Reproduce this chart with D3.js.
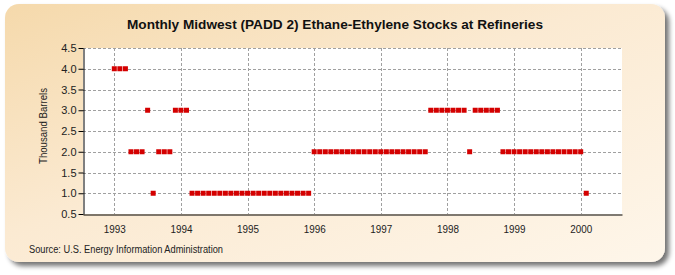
<!DOCTYPE html>
<html><head><meta charset="utf-8">
<script src="https://cdn.jsdelivr.net/npm/d3@7"></script>
<style>body{margin:0;background:#fff}svg{display:block}</style>
</head><body><svg id="c" width="675" height="275"></svg>
<script>
const title = "Monthly Midwest (PADD 2) Ethane-Ethylene Stocks at Refineries";
const yLabel = "Thousand Barrels";
const source = "Source: U.S. Energy Information Administration";
const startYear = 1993;
const values = [
  4,4,4,2,2,2,3,1,2,2,2,3,
  3,3,1,1,1,1,1,1,1,1,1,1,
  1,1,1,1,1,1,1,1,1,1,1,1,
  2,2,2,2,2,2,2,2,2,2,2,2,
  2,2,2,2,2,2,2,2,2,3,3,3,
  3,3,3,3,2,3,3,3,3,3,2,2,
  2,2,2,2,2,2,2,2,2,2,2,2,
  2,1
];
const xTicks = [1993,1994,1995,1996,1997,1998,1999,2000];
const yTicks = [0.5,1.0,1.5,2.0,2.5,3.0,3.5,4.0,4.5];

const svg = d3.select("#c");
const defs = svg.append("defs");
const g1 = defs.append("linearGradient").attr("id","bg").attr("x1","0").attr("x2","1").attr("y1","0").attr("y2","1");
g1.append("stop").attr("offset","0").attr("stop-color","#f5d9ab");
g1.append("stop").attr("offset","0.45").attr("stop-color","#fbead2");
g1.append("stop").attr("offset","1").attr("stop-color","#fef6ea");
const f = defs.append("filter").attr("id","sh").attr("x","-5%").attr("y","-5%").attr("width","115%").attr("height","120%");
f.append("feGaussianBlur").attr("in","SourceAlpha").attr("stdDeviation","2.5");
f.append("feOffset").attr("dx","4").attr("dy","4").attr("result","b");
f.append("feComponentTransfer").append("feFuncA").attr("type","linear").attr("slope","0.55");
const fm = f.append("feMerge"); fm.append("feMergeNode"); fm.append("feMergeNode").attr("in","SourceGraphic");

svg.append("rect").attr("x",5).attr("y",4).attr("width",660).attr("height",258).attr("rx",14)
  .attr("fill","url(#bg)").attr("filter","url(#sh)");

const L=83, R=622, T=48, B=214;
const x = d3.scaleLinear().domain([1992.53, 2000.62]).range([L,R]);
const y = d3.scaleLinear().domain([0.5,4.5]).range([B,T]);

svg.append("rect").attr("x",L).attr("y",T).attr("width",R-L).attr("height",B-T).attr("fill","#fff");

// gridlines
svg.append("g").selectAll("line").data(yTicks.slice(1)).join("line")
  .attr("x1",L).attr("x2",R).attr("y1",d=>Math.round(y(d))+0.5).attr("y2",d=>Math.round(y(d))+0.5)
  .attr("stroke","#a0a0a0").attr("stroke-dasharray","3,2");
svg.append("g").selectAll("line").data(xTicks).join("line")
  .attr("y1",T).attr("y2",B).attr("x1",d=>Math.round(x(d))+0.5).attr("x2",d=>Math.round(x(d))+0.5)
  .attr("stroke","#a0a0a0").attr("stroke-dasharray","3,2");

const font = "'Liberation Sans',Arial,sans-serif";

const yAxis = svg.append("g").attr("transform",`translate(${L+0.5},0)`)
  .call(d3.axisLeft(y).tickValues(yTicks).tickFormat(d3.format(".1f")).tickSize(5).tickSizeOuter(0));
yAxis.select(".domain").attr("stroke","#000");
yAxis.selectAll("text").attr("font-family",font).attr("font-size",11).attr("fill","#222").attr("dx",1);

const xAxis = svg.append("g").attr("transform",`translate(0,${B+0.5})`)
  .call(d3.axisBottom(x).tickValues(xTicks).tickFormat(d3.format("d")).tickSize(0).tickSizeOuter(0));
xAxis.select(".domain").attr("stroke","#000");
xAxis.selectAll("text").attr("font-family",font).attr("font-size",11.5).attr("fill","#222")
  .attr("dy","1.35em").attr("textLength",22).attr("lengthAdjust","spacingAndGlyphs");

// points
svg.append("g").selectAll("rect").data(values).join("rect")
  .attr("x",(d,i)=>x(startYear + i/12)-2.5).attr("y",d=>y(d)-2.5)
  .attr("width",5).attr("height",5).attr("fill","#d40000");

svg.append("text").attr("x",335).attr("y",29).attr("text-anchor","middle")
  .attr("font-family",font).attr("font-weight","bold").attr("font-size",13.5).attr("fill","#111")
  .attr("textLength",416).attr("lengthAdjust","spacingAndGlyphs").text(title);
svg.append("text").attr("transform",`translate(47,126) rotate(-90)`).attr("text-anchor","middle")
  .attr("font-family",font).attr("font-size",11).attr("fill","#222")
  .attr("textLength",76).attr("lengthAdjust","spacingAndGlyphs").text(yLabel);
svg.append("text").attr("x",29).attr("y",253)
  .attr("font-family",font).attr("font-size",10).attr("fill","#222")
  .attr("textLength",194).attr("lengthAdjust","spacingAndGlyphs").text(source);
</script></body></html>
